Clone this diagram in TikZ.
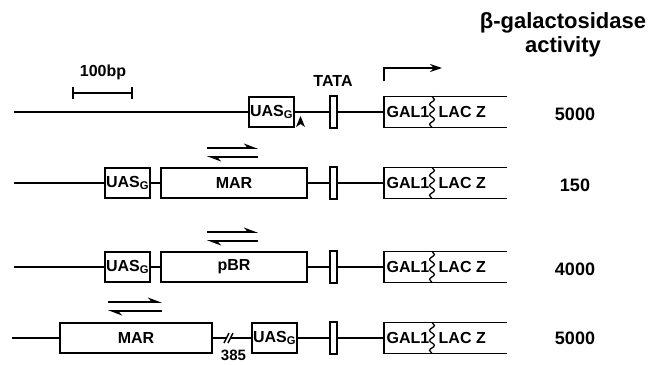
\documentclass[tikz,border=0pt]{standalone}
\usepackage{fontspec}
\setmainfont{Liberation Sans}
\usetikzlibrary{positioning, arrows.meta, decorations.pathmorphing}

\begin{document}
\begin{tikzpicture}[x=1pt, y=-1pt, line width=1.4pt,
  lbl/.style={font=\bfseries\fontsize{16}{18}\selectfont},
  elem/.style={draw, line width=1.3pt, inner sep=0pt, minimum height=30pt, lbl},
  uas/.style={elem, minimum width=45pt},
  insert/.style={elem, minimum width=146pt},
  tata/.style={draw, line width=1.3pt, inner sep=0pt, minimum width=7pt, minimum height=32pt},
  reporter/.style={inner sep=0pt, minimum width=122pt, minimum height=30pt, anchor=west},
  wavy/.style={line width=1.3pt, decorate, decoration={snake, amplitude=2.4pt, segment length=10pt}},
  fwd/.style={line width=1.6pt, -{Stealth[harpoon, length=12pt, width=9pt]}},
  value/.style={font=\bfseries\fontsize{18}{20}\selectfont},
  head/.style={font=\bfseries\fontsize{22}{24}\selectfont, align=center}
]
\useasboundingbox (0,0) rectangle (661,364);

% header and scale
\node[head] (hdr) at (563,35) {β-galactosidase\\activity};
\coordinate (barL) at (72,93);
\coordinate (barR) at (133,93);
\draw[line width=1.6pt, {Bar[width=12pt]}-{Bar[width=12pt]}] (barL) -- (barR);
\node[lbl] (scale) at (103,72) {100bp};

% row 1: wild type
\coordinate (start1) at (14,112);
\node[uas] (uas1) at (271.5,112) {UAS\textsubscript{G}};
\node[tata] (tata1) at (333.5,112) {};
\node[reporter] (rep1) at (384,112) {};
\node[lbl] (tatalbl) at (333,81) {TATA};
\draw (start1) -- (uas1);
\draw (uas1) -- (tata1);
\draw (tata1) -- (rep1.west);
\draw (rep1.north east) -- (rep1.north west) -- (rep1.south west) -- (rep1.south east);
\draw[wavy] ([xshift=48pt]rep1.north west) -- ([xshift=48pt]rep1.south west);
\node[lbl, anchor=west, inner sep=2pt] at (rep1.west) {GAL1};
\node[lbl, anchor=west, inner sep=2pt] at ([xshift=52pt]rep1.west) {LAC Z};
\coordinate (site) at (300.5,127);
\fill (site) ++(-4.5,0) -- ++(4.5,-11) -- ++(4.5,11) -- ++(-4.5,-3) -- cycle;
\coordinate (tss) at (442,68);
\draw[line width=1.5pt, -{Stealth[length=12pt, width=8pt]}] ([yshift=15pt]rep1.north west) |- (tss);
\node[value] (v1) at (575,114) {5000};

% row 2: MAR insert
\coordinate (start2) at (14,183);
\node[uas] (uas2) at (127.5,183) {UAS\textsubscript{G}};
\node[insert] (mar2) at (234,183) {MAR};
\node[tata] (tata2) at (333.5,183) {};
\node[reporter] (rep2) at (384,183) {};
\draw (start2) -- (uas2);
\draw (uas2) -- (mar2);
\draw (mar2) -- (tata2);
\draw (tata2) -- (rep2.west);
\draw (rep2.north east) -- (rep2.north west) -- (rep2.south west) -- (rep2.south east);
\draw[wavy] ([xshift=48pt]rep2.north west) -- ([xshift=48pt]rep2.south west);
\node[lbl, anchor=west, inner sep=2pt] at (rep2.west) {GAL1};
\node[lbl, anchor=west, inner sep=2pt] at ([xshift=52pt]rep2.west) {LAC Z};
\draw[fwd] ([shift={(-27,-35)}]mar2.center) -- ++(51,0);
\draw[fwd] ([shift={(24,-26)}]mar2.center) -- ++(-51,0);
\node[value] (v2) at (575,185) {150};

% row 3: pBR insert
\coordinate (start3) at (14,267);
\node[uas] (uas3) at (127.5,267) {UAS\textsubscript{G}};
\node[insert] (pbr3) at (234,267) {pBR};
\node[tata] (tata3) at (333.5,267) {};
\node[reporter] (rep3) at (384,267) {};
\draw (start3) -- (uas3);
\draw (uas3) -- (pbr3);
\draw (pbr3) -- (tata3);
\draw (tata3) -- (rep3.west);
\draw (rep3.north east) -- (rep3.north west) -- (rep3.south west) -- (rep3.south east);
\draw[wavy] ([xshift=48pt]rep3.north west) -- ([xshift=48pt]rep3.south west);
\node[lbl, anchor=west, inner sep=2pt] at (rep3.west) {GAL1};
\node[lbl, anchor=west, inner sep=2pt] at ([xshift=52pt]rep3.west) {LAC Z};
\draw[fwd] ([shift={(-27,-35)}]pbr3.center) -- ++(51,0);
\draw[fwd] ([shift={(24,-26)}]pbr3.center) -- ++(-51,0);
\node[value] (v3) at (575,269) {4000};

% row 4: MAR upstream
\coordinate (start4) at (12,338);
\node[insert, minimum width=152pt] (mar4) at (136,338) {MAR};
\coordinate (brk) at (228.5,338);
\node[uas] (uas4) at (274.5,338) {UAS\textsubscript{G}};
\node[tata] (tata4) at (333.5,338) {};
\node[reporter] (rep4) at (384,338) {};
\draw (start4) -- (mar4);
\draw (mar4) -- ([xshift=-2.5pt]brk);
\draw ([xshift=2.5pt]brk) -- (uas4);
\draw ([shift={(-4.5,5)}]brk) -- ++(5,-10);
\draw ([shift={(-0.5,5)}]brk) -- ++(5,-10);
\node[font=\bfseries\fontsize{15}{16}\selectfont, inner sep=1pt] (len) at ([shift={(5,17)}]brk) {385};
\draw (uas4) -- (tata4);
\draw (tata4) -- (rep4.west);
\draw (rep4.north east) -- (rep4.north west) -- (rep4.south west) -- (rep4.south east);
\draw[wavy] ([xshift=48pt]rep4.north west) -- ([xshift=48pt]rep4.south west);
\node[lbl, anchor=west, inner sep=2pt] at (rep4.west) {GAL1};
\node[lbl, anchor=west, inner sep=2pt] at ([xshift=52pt]rep4.west) {LAC Z};
\draw[fwd] ([shift={(-28,-36)}]mar4.center) -- ++(54,0);
\draw[fwd] ([shift={(26,-27)}]mar4.center) -- ++(-54,0);
\node[value] (v4) at (575,338) {5000};
\end{tikzpicture}
\end{document}
